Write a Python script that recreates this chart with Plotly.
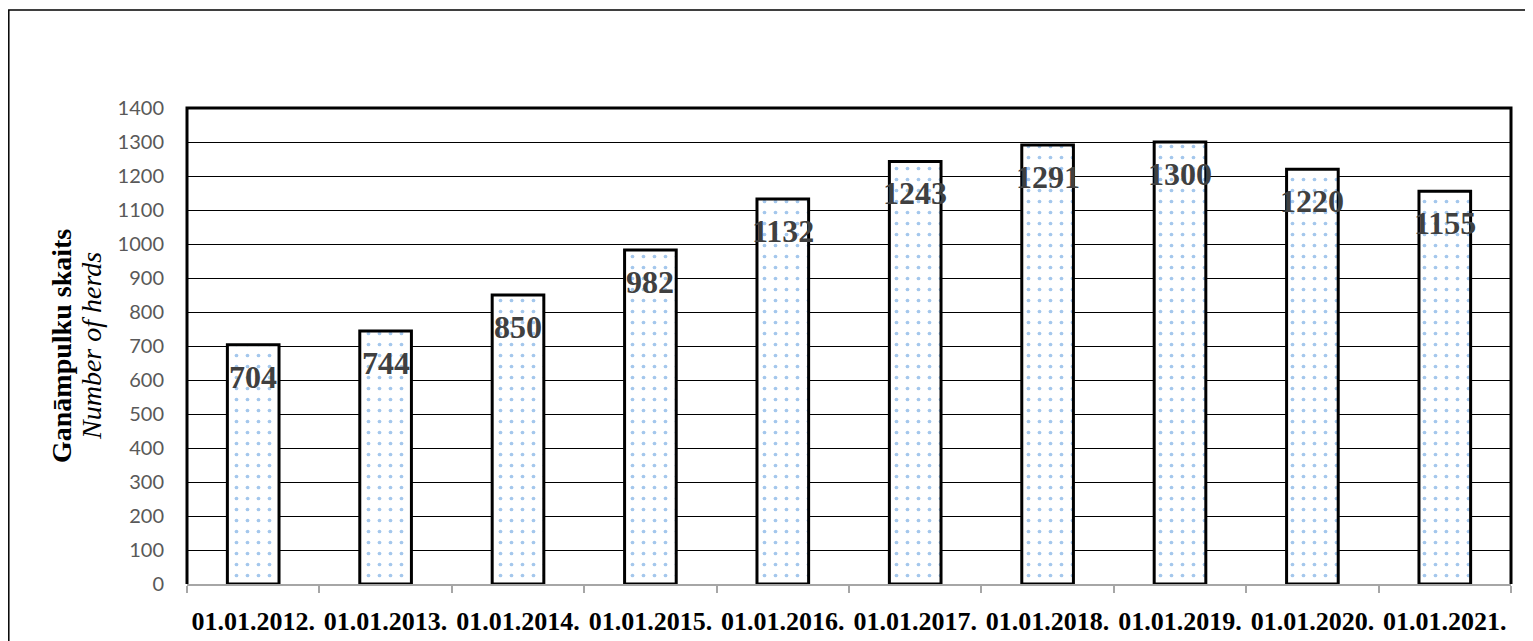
import plotly.graph_objects as go

categories = ["01.01.2012.", "01.01.2013.", "01.01.2014.", "01.01.2015.", "01.01.2016.",
              "01.01.2017.", "01.01.2018.", "01.01.2019.", "01.01.2020.", "01.01.2021."]
herds = [704, 744, 850, 982, 1132, 1243, 1291, 1300, 1220, 1155]
y_ticks = list(range(0, 1401, 100))

# page has an 8px body margin, so the figure is 8px smaller than the window
W, H = 1525, 633
L, R, T, B = 179, 22, 100, 57
pw, ph = W - L - R, H - T - B

fig = go.Figure()
fig.add_trace(go.Bar(
    x=categories, y=herds,
    marker=dict(color="white",
                line=dict(color="black", width=3),
                pattern=dict(shape=".", fgcolor="#4a90d9", bgcolor="white",
                             size=11, solidity=0.09, fillmode="overlay")),
    hoverinfo="x+y", showlegend=False,
))

for c, v in zip(categories, herds):
    fig.add_annotation(x=c, y=v, text=f"<b>{v}</b>", showarrow=False,
                       yanchor="middle", yshift=-32,
                       font=dict(family="Liberation Serif", size=32, color="#404040"))

fig.add_annotation(xref="paper", yref="paper", x=0, y=0.5, xshift=-126,
                   text="<b>Ganāmpulku skaits</b>",
                   textangle=-90, showarrow=False, xanchor="center", yanchor="middle",
                   font=dict(family="Liberation Serif", size=28, color="black"))
fig.add_annotation(xref="paper", yref="paper", x=0, y=0.5, xshift=-96,
                   text="<i>Number of herds</i>",
                   textangle=-90, showarrow=False, xanchor="center", yanchor="middle",
                   font=dict(family="Liberation Serif", size=28, color="black"))

# plot frame (left, top, right)
fig.add_shape(type="path", xref="paper", yref="paper",
              path="M 0,0 L 0,1 L 1,1 L 1,0", line=dict(color="black", width=3))
# outer chart border
fig.add_shape(type="rect", xref="paper", yref="paper",
              x0=(0.8 - L) / pw, x1=(W + 10 - L) / pw,
              y0=-(B + 10) / ph, y1=(H - B - 2) / ph,
              line=dict(color="black", width=1.5), layer="below")

fig.update_layout(
    width=W, height=H,
    margin=dict(l=L, r=R, t=T, b=B, autoexpand=False),
    paper_bgcolor="white", plot_bgcolor="white",
    bargap=0.61,
    xaxis=dict(type="category", tickson="boundaries", ticks="outside", ticklen=7,
               tickcolor="#a6a6a6", tickwidth=1.5, tickangle=0, automargin=False,
               showline=True, linecolor="#a6a6a6", linewidth=1.5,
               showgrid=False, ticklabelstandoff=13,
               tickfont=dict(family="Liberation Serif", size=26, color="black", weight="bold")),
    yaxis=dict(range=[0, 1400], tickvals=y_ticks, showgrid=True, gridcolor="black",
               gridwidth=1.3, zeroline=False, showline=False, ticks="", automargin=False,
               ticklabelstandoff=22,
               tickfont=dict(family="Lato", size=20, color="#595959")),
)

fig.write_html("out.html")
